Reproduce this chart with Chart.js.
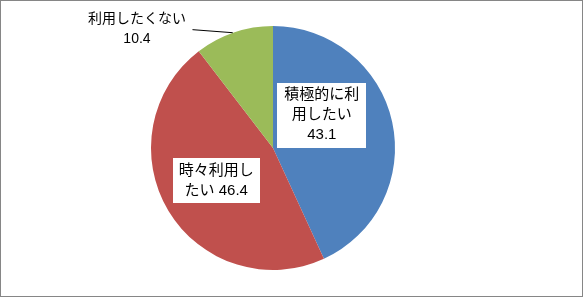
<!DOCTYPE html>
<html><head><meta charset="utf-8">
<script src="https://cdn.jsdelivr.net/npm/chart.js@4"></script>
<style>html,body{margin:0;padding:0;background:#fff}#w{width:584px;height:299px;position:relative}</style>
</head><body><div id="w"><canvas id="c" width="584" height="299"></canvas></div>
<script>
const categories = ['積極的に利用したい', '時々利用したい', '利用したくない'];
const values = [43.1, 46.4, 10.4];
const labelLines = [['積極的に利', '用したい', '43.1'], ['時々利用し', 'たい 46.4'], ['利用したくない', '10.4']];
const colors = ['#4F81BD', '#C0504D', '#9BBB59'];

const FONT = '"Liberation Sans", "Noto Sans CJK JP", sans-serif';
const labelPlugin = {
  id: 'labels',
  afterDraw(chart) {
    const ctx = chart.ctx;
    const arcs = chart.getDatasetMeta(0).data;
    const cx = arcs[0].x, cy = arcs[0].y, r = arcs[0].outerRadius;
    // label anchors relative to pie (fractions of radius)
    const anchors = [
      {fx: 0.40, fy: -0.27, box: true, w: 89, h: 65, size: 15},
      {fx: -0.465, fy: 0.27, box: true, w: 87, h: 45, size: 15},
      {fx: -1.115, fy: -0.975, box: false, size: 14}
    ];
    ctx.save();
    ctx.textAlign = 'center';
    ctx.textBaseline = 'middle';
    labelLines.forEach((lines, i) => {
      const a = anchors[i];
      ctx.font = a.size + 'px ' + FONT;
      const x = cx + a.fx * r, y = cy + a.fy * r;
      const lh = 20;
      if (a.box) {
        ctx.fillStyle = '#fff';
        ctx.fillRect(Math.round(x - a.w / 2), Math.round(y - a.h / 2), a.w, a.h);
      }
      ctx.fillStyle = '#000';
      const y0 = y - (lines.length - 1) * lh / 2;
      lines.forEach((t, k) => ctx.fillText(t, x, y0 + k * lh));
    });
    // leader line for small slice
    ctx.strokeStyle = '#000';
    ctx.lineWidth = 1;
    ctx.beginPath();
    ctx.moveTo(cx - 0.66 * r, cy - 0.97 * r);
    ctx.lineTo(cx - 0.33 * r, cy - 0.945 * r);
    ctx.stroke();
    // outer border
    ctx.strokeStyle = '#868686';
    ctx.strokeRect(0.5, 0.5, 582, 296);
    ctx.restore();
  }
};

new Chart(document.getElementById('c'), {
  type: 'pie',
  data: {
    labels: categories,
    datasets: [{ data: values, backgroundColor: colors, borderWidth: 0 }]
  },
  options: {
    responsive: false,
    animation: false,
    layout: { padding: { left: 20, right: 58, top: 26, bottom: 29 } },
    plugins: { legend: { display: false }, tooltip: { enabled: false } }
  },
  plugins: [labelPlugin]
});
</script>
</body></html>
